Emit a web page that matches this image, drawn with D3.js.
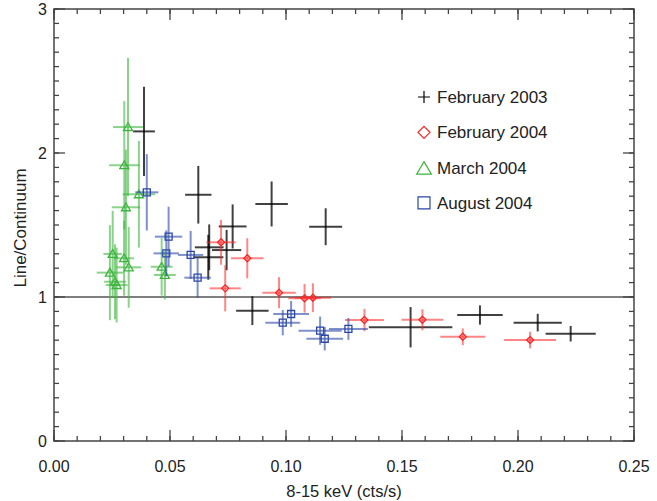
<!DOCTYPE html>
<html>
<head>
<meta charset="utf-8">
<script src="https://cdn.jsdelivr.net/npm/d3@7"></script>
<style>
body { margin: 0; background: #fff; }
svg text { font-family: "Liberation Sans", Arial, Helvetica, sans-serif; fill: #222; }
</style>
</head>
<body>
<svg id="chart" width="657" height="501"></svg>
<script>
// Feb 2003 (black crosses)
var feb03X    = [0.0388, 0.0622, 0.0938, 0.1171, 0.0770, 0.0669, 0.0665, 0.0744, 0.0855, 0.1537, 0.1836, 0.2085, 0.2227];
var feb03Xerr = [0.0047, 0.0057, 0.0070, 0.0071, 0.0060, 0.0062, 0.0065, 0.0063, 0.0070, 0.0180, 0.0098, 0.0104, 0.0108];
var feb03Y    = [2.15, 1.71, 1.646, 1.488, 1.49, 1.345, 1.276, 1.326, 0.905, 0.79, 0.875, 0.822, 0.745];
var feb03Yerr = [0.31, 0.20, 0.156, 0.128, 0.153, 0.159, 0.156, 0.14, 0.10, 0.14, 0.067, 0.061, 0.054];

// Feb 2004 (red diamonds)
var feb04X    = [0.0720, 0.0833, 0.0738, 0.0970, 0.1080, 0.1116, 0.1338, 0.1588, 0.1762, 0.2052];
var feb04Xerr = [0.0063, 0.0070, 0.0067, 0.0072, 0.0070, 0.0078, 0.0084, 0.0090, 0.0097, 0.0112];
var feb04Y    = [1.38, 1.269, 1.06, 1.03, 0.991, 0.995, 0.84, 0.842, 0.724, 0.701];
var feb04Yerr = [0.156, 0.139, 0.16, 0.108, 0.10, 0.10, 0.078, 0.073, 0.058, 0.058];

// March 2004 (green triangles)
var mar04X    = [0.0319, 0.0303, 0.0366, 0.0310, 0.0253, 0.0302, 0.0322, 0.0241, 0.0263, 0.0270, 0.0464, 0.0478];
var mar04Xerr = [0.0065, 0.0065, 0.0070, 0.0061, 0.0040, 0.0043, 0.0054, 0.0057, 0.0047, 0.0047, 0.0047, 0.0047];
var mar04Y    = [2.18, 1.915, 1.713, 1.623, 1.299, 1.269, 1.206, 1.169, 1.106, 1.083, 1.21, 1.153];
var mar04Yerr = [0.48, 0.445, 0.37, 0.40, 0.30, 0.26, 0.28, 0.33, 0.26, 0.26, 0.20, 0.17];

// Aug 2004 (blue squares)
var aug04X    = [0.0400, 0.0494, 0.0484, 0.0589, 0.0619, 0.1022, 0.0986, 0.1147, 0.1167, 0.1269];
var aug04Xerr = [0.0050, 0.0059, 0.0055, 0.0054, 0.0057, 0.0077, 0.0075, 0.0093, 0.0079, 0.0084];
var aug04Y    = [1.727, 1.419, 1.303, 1.292, 1.134, 0.882, 0.822, 0.766, 0.71, 0.778];
var aug04Yerr = [0.265, 0.208, 0.16, 0.167, 0.139, 0.09, 0.088, 0.098, 0.081, 0.076];

var seriesNames = ["February 2003", "February 2004", "March 2004", "August 2004"];

var xTicks = [0.00, 0.05, 0.10, 0.15, 0.20, 0.25];
var yTicks = [0, 1, 2, 3];

var svg = d3.select("#chart");

var x = d3.scaleLinear().domain([0, 0.25]).range([54, 634]);
var y = d3.scaleLinear().domain([0, 3]).range([441, 9]);

function zip(xs, xe, ys, ye) {
    return xs.map(function(d, i) {
        return {x: d, xe: xe[i], y: ys[i], ye: ye[i]};
    });
}

var series = [
    {name: seriesNames[0], data: zip(feb03X, feb03Xerr, feb03Y, feb03Yerr), color: "#000", barOp: 0.75, sym: "cross"},
    {name: seriesNames[1], data: zip(feb04X, feb04Xerr, feb04Y, feb04Yerr), color: "#f22", barOp: 0.55, sym: "diamond"},
    {name: seriesNames[2], data: zip(mar04X, mar04Xerr, mar04Y, mar04Yerr), color: "#3db53d", barOp: 0.6, sym: "triangle"},
    {name: seriesNames[3], data: zip(aug04X, aug04Xerr, aug04Y, aug04Yerr), color: "#2a46a8", barOp: 0.6, sym: "square"}
];

function symPath(sym, s) {
    if (sym == "diamond") return "M0," + (-s) + "L" + s + ",0L0," + s + "L" + (-s) + ",0Z";
    if (sym == "triangle") return "M0," + (-s) + "L" + (s * 1.05) + "," + (s * 0.8) + "L" + (-s * 1.05) + "," + (s * 0.8) + "Z";
    if (sym == "square") return "M" + (-s) + "," + (-s) + "H" + s + "V" + s + "H" + (-s) + "Z";
    return "M" + (-s) + ",0H" + s + "M0," + (-s) + "V" + s;
}

// reference line at 1
svg.append("line")
    .attr("x1", x(0)).attr("x2", x(0.25))
    .attr("y1", y(1)).attr("y2", y(1))
    .attr("stroke", "#000").attr("stroke-width", 1.2);

series.forEach(function(s) {
    var g = svg.append("g").attr("class", "series");
    var pts = g.selectAll("g.pt").data(s.data).enter().append("g").attr("class", "pt");
    pts.append("line")
        .attr("x1", function(d) { return x(d.x - d.xe); })
        .attr("x2", function(d) { return x(d.x + d.xe); })
        .attr("y1", function(d) { return y(d.y); })
        .attr("y2", function(d) { return y(d.y); })
        .attr("stroke", s.color).attr("stroke-opacity", s.barOp).attr("stroke-width", 2);
    pts.append("line")
        .attr("x1", function(d) { return x(d.x); })
        .attr("x2", function(d) { return x(d.x); })
        .attr("y1", function(d) { return y(d.y - d.ye); })
        .attr("y2", function(d) { return y(d.y + d.ye); })
        .attr("stroke", s.color).attr("stroke-opacity", s.barOp).attr("stroke-width", 2);
    if (s.sym != "cross") {
        var size = s.sym == "triangle" ? 4.3 : 3.5;
        pts.append("path")
            .attr("transform", function(d) { return "translate(" + x(d.x) + "," + y(d.y) + ")"; })
            .attr("d", symPath(s.sym, size))
            .attr("fill", "none")
            .attr("stroke", s.color).attr("stroke-width", 1.3);
    }
});

// frame and ticks
svg.append("rect")
    .attr("x", x(0)).attr("y", y(3))
    .attr("width", x(0.25) - x(0)).attr("height", y(0) - y(3))
    .attr("fill", "none").attr("stroke", "#444").attr("stroke-width", 1.5);

var xMinor = d3.range(0, 0.2501, 0.01);
var yMinor = d3.range(0, 3.001, 0.1);

function tickLines(vals, isX, side, len) {
    svg.append("g").selectAll("line").data(vals).enter().append("line")
        .attr("x1", function(d) { return isX ? x(d) : (side == "l" ? x(0) : x(0.25)); })
        .attr("x2", function(d) { return isX ? x(d) : (side == "l" ? x(0) + len : x(0.25) - len); })
        .attr("y1", function(d) { return isX ? (side == "b" ? y(0) : y(3)) : y(d); })
        .attr("y2", function(d) { return isX ? (side == "b" ? y(0) - len : y(3) + len) : y(d); })
        .attr("stroke", "#444").attr("stroke-width", 1.3);
}
tickLines(xMinor, true, "b", 5);
tickLines(xMinor, true, "t", 5);
tickLines(xTicks, true, "b", 11);
tickLines(xTicks, true, "t", 11);
tickLines(yMinor, false, "l", 5);
tickLines(yMinor, false, "r", 5);
tickLines(yTicks, false, "l", 11);
tickLines(yTicks, false, "r", 11);

svg.append("g").selectAll("text").data(xTicks).enter().append("text")
    .attr("x", function(d) { return x(d); })
    .attr("y", 472)
    .attr("text-anchor", "middle")
    .style("font-size", "16px")
    .text(function(d) { return d3.format(".2f")(d); });

svg.append("g").selectAll("text").data(yTicks).enter().append("text")
    .attr("x", 47)
    .attr("y", function(d) { return y(d) + 6; })
    .attr("text-anchor", "end")
    .style("font-size", "16px")
    .text(function(d) { return d; });

svg.append("text")
    .attr("x", 344).attr("y", 497)
    .attr("text-anchor", "middle")
    .style("font-size", "16.5px")
    .text("8-15 keV (cts/s)");

svg.append("text")
    .attr("transform", "translate(26,228) rotate(-90)")
    .attr("text-anchor", "middle")
    .style("font-size", "17px")
    .text("Line/Continuum");

// legend
var legend = svg.append("g").attr("transform", "translate(424,97)");
var item = legend.selectAll("g").data(series).enter().append("g")
    .attr("transform", function(d, i) { return "translate(0," + (i * 35.3) + ")"; });
item.append("path")
    .attr("d", function(d) { return symPath(d.sym, d.sym == "triangle" ? 7 : 6); })
    .attr("transform", function(d) { return d.sym == "triangle" ? "translate(0,1)" : null; })
    .attr("fill", "none")
    .attr("stroke", function(d) { return d.color; })
    .attr("stroke-width", 1.2);
item.append("text")
    .attr("x", 13).attr("y", 6)
    .style("font-size", "17px")
    .text(function(d) { return d.name; });
</script>
</body>
</html>
